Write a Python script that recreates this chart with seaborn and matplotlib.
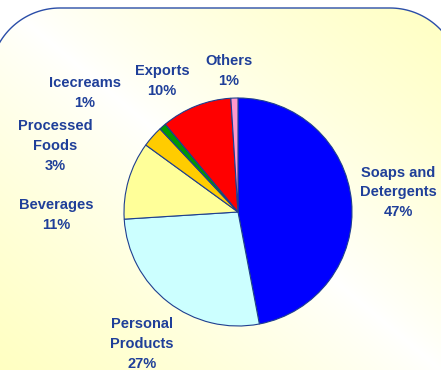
import numpy as np
import matplotlib
matplotlib.use("Agg")
import matplotlib.pyplot as plt
from matplotlib.patches import Polygon
import seaborn as sns

# Sales mix by business segment
categories = ["Soaps and\nDetergents", "Personal\nProducts", "Beverages",
              "Processed\nFoods", "Icecreams", "Exports", "Others"]
shares = [47, 27, 11, 3, 1, 10, 1]
slice_colors = ["#0000FF", "#CCFFFF", "#FFFF99", "#FFCC00", "#009900", "#FF0000", "#FF99CC"]

# label anchor points (figure pixels, y measured from the top)
label_pos = [(398, 192), (142, 344), (56, 215), (55, 146), (85, 93), (162, 81), (229, 71)]

sns.set_style("white")
plt.rcParams["font.family"] = ["Liberation Sans", "DejaVu Sans"]

W, H = 441, 370
fig = plt.figure(figsize=(W / 100, H / 100), dpi=100)
ax = fig.add_axes([0, 0, 1, 1])


def panel_outline(left=-10, right=460, top=H - 8, bottom=-200, r=70, n=40):
    # rounded top corners; the sides and bottom run off the canvas
    a1 = np.linspace(np.pi, np.pi / 2, n)
    a2 = np.linspace(np.pi / 2, 0, n)
    pts = [(left, bottom), (left, top - r)]
    pts += list(zip(left + r + r * np.cos(a1), top - r + r * np.sin(a1)))
    pts += list(zip(right - r + r * np.cos(a2), top - r + r * np.sin(a2)))
    pts += [(right, top - r), (right, bottom)]
    return np.array(pts)


outline = panel_outline()

# diagonal cream-to-white gradient inside the panel
gx, gy = np.meshgrid(np.linspace(0, 1, W), np.linspace(0, 1, H))
t = (gx + gy) / 2.0
w = np.clip(np.abs(t - 0.5) * 2.0, 0, 1) ** 0.8
cream = np.array([1.0, 1.0, 0.76])
img = (1 - w[..., None]) * np.ones(3) + w[..., None] * cream
im = ax.imshow(img, extent=(0, W, H, 0), origin="upper", zorder=1, aspect="auto")
clip = Polygon(outline, closed=True, facecolor="none", edgecolor="none")
ax.add_patch(clip)
im.set_clip_path(clip)
ax.add_patch(Polygon(outline, closed=False, facecolor="none",
                     edgecolor="#2A4DA8", linewidth=1.0, zorder=2))

ax.pie(shares, colors=slice_colors, startangle=90, counterclock=False,
       center=(238, H - 212), radius=114, frame=True,
       wedgeprops=dict(edgecolor="#1F3F8F", linewidth=0.8, zorder=3))
ax.set_xlim(0, W)
ax.set_ylim(0, H)
ax.axis("off")

for name, val, (px, py) in zip(categories, shares, label_pos):
    ax.text(px, H - py, f"{name}\n{val}%", ha="center", va="center",
            fontsize=10.5, fontweight="bold", color="#1F3F99",
            linespacing=1.5, zorder=4)

fig.savefig("out.png", dpi=100)
